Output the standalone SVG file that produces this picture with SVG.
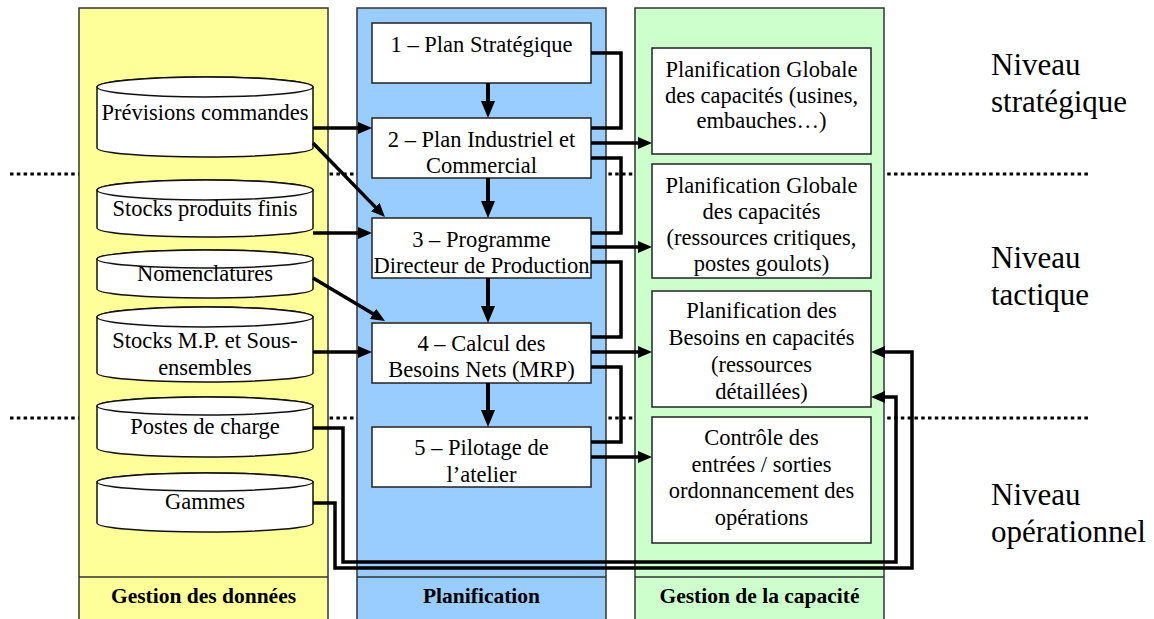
<svg xmlns="http://www.w3.org/2000/svg" width="1154" height="619" viewBox="0 0 1154 619">
<style>
.t{font-family:"Liberation Serif","Times New Roman",serif;font-size:22.5px;text-anchor:middle;fill:#000}
.b{font-family:"Liberation Serif","Times New Roman",serif;font-size:21.5px;font-weight:bold;text-anchor:middle;fill:#000}
.lv{font-family:"Liberation Serif","Times New Roman",serif;font-size:31px;fill:#000}
.col{stroke:#333;stroke-width:1.5}
.box{fill:#fff;stroke:#222;stroke-width:1.5}
.cyl{fill:#fff;stroke:#111;stroke-width:1.5}
.dot{stroke:#000;stroke-width:3;stroke-dasharray:3.5 3.3;fill:none}
.c{fill:none;stroke:#000;stroke-width:3.5;stroke-linejoin:miter}
.ca{fill:none;stroke:#000;stroke-width:3.5;marker-end:url(#ah)}
.cv{fill:none;stroke:#000;stroke-width:4;marker-end:url(#av)}
</style>
<defs>
<marker id="ah" viewBox="0 0 14 12" markerWidth="14" markerHeight="12" refX="2" refY="6" orient="auto" markerUnits="userSpaceOnUse"><path d="M0,0 L14,6 L0,12 z" fill="#000"/></marker>
<marker id="av" viewBox="0 0 17 14" markerWidth="17" markerHeight="14" refX="3" refY="7" orient="auto" markerUnits="userSpaceOnUse"><path d="M0,0 L17,7 L0,14 z" fill="#000"/></marker>
</defs>
<rect width="1154" height="619" fill="#fff"/>
<g id="levels">
<line class="dot" x1="10" y1="174" x2="1088" y2="174"/>
<line class="dot" x1="10" y1="418" x2="1088" y2="418"/>
<text class="lv" x="991" y="75">Niveau</text>
<text class="lv" x="991" y="112">stratégique</text>
<text class="lv" x="991" y="268">Niveau</text>
<text class="lv" x="991" y="305">tactique</text>
<text class="lv" x="991" y="505">Niveau</text>
<text class="lv" x="991" y="542">opérationnel</text>
</g>
<g id="lane-donnees">
<rect class="col" x="79" y="8" width="249" height="620" fill="#ffff99"/>
<line class="col" x1="79" y1="577" x2="328" y2="577"/>
<text class="b" x="203.5" y="603">Gestion des données</text>
</g>
<g id="lane-planification">
<rect class="col" x="357" y="8" width="249" height="620" fill="#99ccff"/>
<line class="col" x1="357" y1="577" x2="606" y2="577"/>
<text class="b" x="481.5" y="603">Planification</text>
</g>
<g id="lane-capacite">
<rect class="col" x="635" y="8" width="249" height="620" fill="#ccffcc"/>
<line class="col" x1="635" y1="577" x2="884" y2="577"/>
<text class="b" x="759.5" y="603">Gestion de la capacité</text>
</g>
<g id="cyl-previsions">
<path class="cyl" d="M97,87 A108,10 0 0 1 313,87 V148 A108,9 0 0 1 97,148 Z"/>
<ellipse class="cyl" cx="205" cy="87" rx="108" ry="10"/>
<text class="t" x="205" y="120">Prévisions commandes</text>
</g>
<g id="cyl-stocks-pf">
<path class="cyl" d="M97,190 A108,10 0 0 1 313,190 V228 A108,9 0 0 1 97,228 Z"/>
<ellipse class="cyl" cx="205" cy="190" rx="108" ry="10"/>
<text class="t" x="205" y="216">Stocks produits finis</text>
</g>
<g id="cyl-nomenclatures">
<path class="cyl" d="M97,259 A108,9 0 0 1 313,259 V289 A108,9 0 0 1 97,289 Z"/>
<ellipse class="cyl" cx="205" cy="259" rx="108" ry="9"/>
<text class="t" x="205" y="281">Nomenclatures</text>
</g>
<g id="cyl-stocks-mp">
<path class="cyl" d="M97,317 A108,10 0 0 1 313,317 V373 A108,9 0 0 1 97,373 Z"/>
<ellipse class="cyl" cx="205" cy="317" rx="108" ry="10"/>
<text class="t" x="205" y="348">Stocks M.P. et Sous-</text>
<text class="t" x="205" y="375">ensembles</text>
</g>
<g id="cyl-postes">
<path class="cyl" d="M97,406 A108,9 0 0 1 313,406 V448 A108,9 0 0 1 97,448 Z"/>
<ellipse class="cyl" cx="205" cy="406" rx="108" ry="9"/>
<text class="t" x="205" y="434">Postes de charge</text>
</g>
<g id="cyl-gammes">
<path class="cyl" d="M97,482 A108,9 0 0 1 313,482 V523 A108,9 0 0 1 97,523 Z"/>
<ellipse class="cyl" cx="205" cy="482" rx="108" ry="9"/>
<text class="t" x="205" y="509">Gammes</text>
</g>
<g id="plan-1">
<rect class="box" x="372" y="23" width="219" height="60"/>
<text class="t" x="481.5" y="52">1 – Plan Stratégique</text>
</g>
<g id="plan-2">
<rect class="box" x="372" y="118" width="219" height="60"/>
<text class="t" x="481.5" y="147">2 – Plan Industriel et</text>
<text class="t" x="481.5" y="173">Commercial</text>
</g>
<g id="plan-3">
<rect class="box" x="372" y="218" width="219" height="60"/>
<text class="t" x="481.5" y="247">3 – Programme</text>
<text class="t" x="481.5" y="273">Directeur de Production</text>
</g>
<g id="plan-4">
<rect class="box" x="372" y="323" width="219" height="60"/>
<text class="t" x="481.5" y="351">4 – Calcul des</text>
<text class="t" x="481.5" y="377">Besoins Nets (MRP)</text>
</g>
<g id="plan-5">
<rect class="box" x="372" y="427" width="219" height="60"/>
<text class="t" x="481.5" y="455">5 – Pilotage de</text>
<text class="t" x="481.5" y="482">l’atelier</text>
</g>
<g id="cap-1">
<rect class="box" x="652" y="48" width="219" height="106"/>
<text class="t" x="761.5" y="77">Planification Globale</text>
<text class="t" x="761.5" y="103">des capacités (usines,</text>
<text class="t" x="761.5" y="128">embauches…)</text>
</g>
<g id="cap-2">
<rect class="box" x="652" y="164" width="219" height="114"/>
<text class="t" x="761.5" y="193">Planification Globale</text>
<text class="t" x="761.5" y="219">des capacités</text>
<text class="t" x="761.5" y="245">(ressources critiques,</text>
<text class="t" x="761.5" y="271">postes goulots)</text>
</g>
<g id="cap-3">
<rect class="box" x="652" y="291" width="219" height="116"/>
<text class="t" x="761.5" y="318">Planification des</text>
<text class="t" x="761.5" y="345">Besoins en capacités</text>
<text class="t" x="761.5" y="372">(ressources</text>
<text class="t" x="761.5" y="399">détaillées)</text>
</g>
<g id="cap-4">
<rect class="box" x="652" y="417" width="219" height="126"/>
<text class="t" x="761.5" y="445">Contrôle des</text>
<text class="t" x="761.5" y="472">entrées / sorties</text>
<text class="t" x="761.5" y="498">ordonnancement des</text>
<text class="t" x="761.5" y="525">opérations</text>
</g>
<g id="connectors">
<path class="ca" d="M313,128 H360"/>
<path class="ca" d="M313,143 L376.6,208.4"/>
<path class="ca" d="M313,233 H360"/>
<path class="ca" d="M313,278 L374.7,314.8"/>
<path class="ca" d="M313,352 H360"/>
<path class="ca" d="M313,428 H343 V562 H896 V397 H883"/>
<path class="ca" d="M313,503 H335 V568 H912 V352 H883"/>
<path class="cv" d="M488,83 V104"/>
<path class="cv" d="M488,178 V204"/>
<path class="cv" d="M488,278 V309"/>
<path class="cv" d="M488,383 V413"/>
<path class="c" d="M591,53 H621 V128 H591"/>
<path class="c" d="M591,158 H621 V233 H591"/>
<path class="c" d="M591,262 H621 V337 H591"/>
<path class="c" d="M591,367 H621 V442 H591"/>
<path class="ca" d="M591,143 H640"/>
<path class="ca" d="M591,247 H640"/>
<path class="ca" d="M591,352 H640"/>
<path class="ca" d="M591,457 H640"/>
</g>
</svg>
